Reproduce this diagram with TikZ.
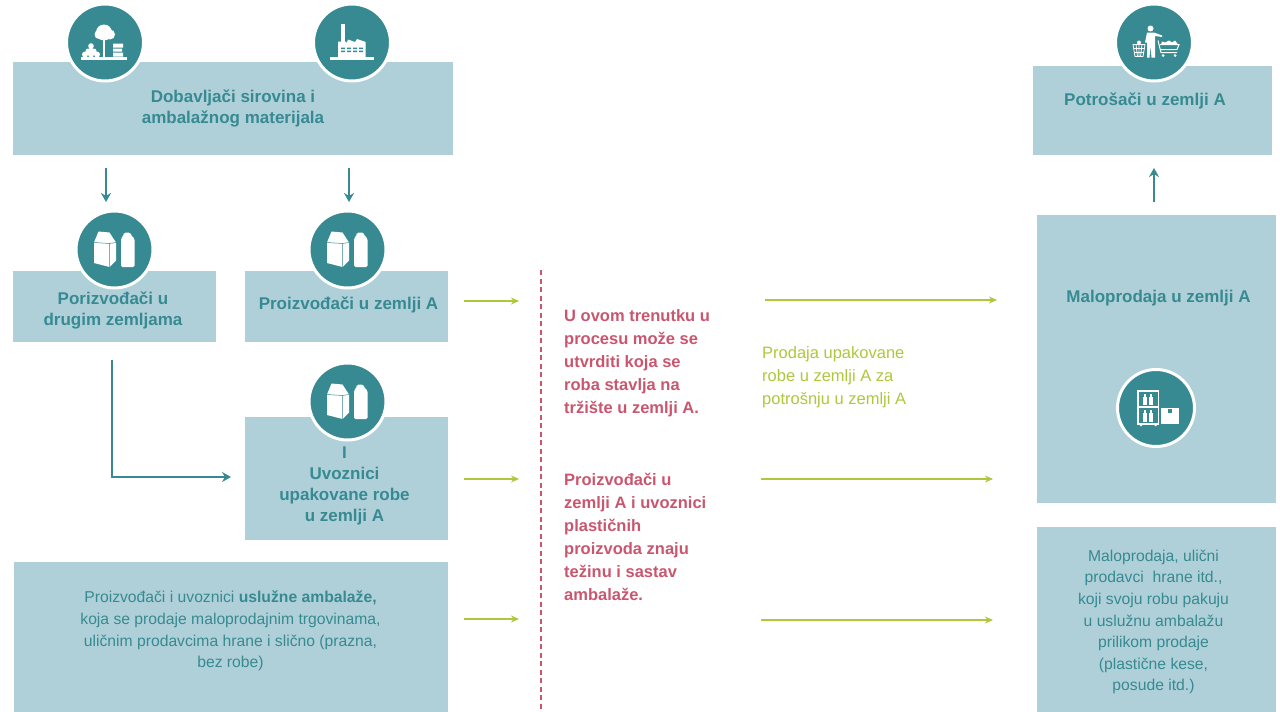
\documentclass[tikz,border=0pt]{standalone}
\usepackage{fontspec}
\setmainfont{Liberation Sans}
\usetikzlibrary{arrows.meta}
\definecolor{tealdark}{HTML}{378A91}
\definecolor{boxblue}{HTML}{AFD0D9}
\definecolor{limeline}{HTML}{AEC73C}
\definecolor{rosered}{HTML}{C9566F}
\tikzset{
	panel/.style={fill=boxblue, draw=none, inner sep=0pt, anchor=north west},
	disc/.style={circle, fill=tealdark, draw=white, line width=3pt, inner sep=0pt, minimum size=77pt},
	headtext/.style={text=tealdark, font=\fontsize{17}{21}\selectfont\bfseries, align=center, inner sep=0pt},
	bodytext/.style={text=tealdark, font=\fontsize{15.7}{21.6}\selectfont, align=center, inner sep=0pt},
	noticetext/.style={text=rosered, font=\fontsize{16.5}{23}\selectfont\bfseries, align=left, inner sep=0pt, anchor=west},
	saletext/.style={text=limeline, font=\fontsize{16.5}{23}\selectfont, align=left, inner sep=0pt, anchor=west},
	tealarrow/.style={draw=tealdark, line width=1.6pt, -{Stealth[length=9pt,width=10pt]}},
	limearrow/.style={draw=limeline, line width=1.2pt, -{Stealth[length=8pt,width=7pt]}},
	supplyicon/.pic={
		\fill[white] (-24,14.3) rectangle (22,17);
		\fill[white] (-2,-6) rectangle (0,15);
		\fill[white] (-1,-10) circle (8) (-6,-8) circle (4.5) (5,-8) circle (5);
		\fill[white] (-14,8.5) circle (3) (-20,12) circle (3) (-14,12) circle (3) (-8,12) circle (3) (-17,8.5) circle (2.5) (-11,8.5) circle (2.5) (-14,3.5) circle (2.8);
		\fill[white] (8,1) rectangle (18,5) (8,6) rectangle (17,9) (8,10) rectangle (18,14);
	},
	factoryicon/.pic={
		\fill[white] (-22,14.3) rectangle (22,17);
		\fill[white] (-11.3,-18.7) rectangle (-7,0);
		\fill[white] (-14,15) -- (-14,-1) -- (-6,-1) -- (-5.5,1) -- (-4,-3) -- (3,-0.5) -- (5,-3.5) -- (13.7,-0.5) -- (13.7,15) -- cycle;
		\foreach \winx in {-11,-5,1,7} {
			\fill[tealdark] (\winx,5) rectangle ++(4,1.6) (\winx,8) rectangle ++(4,1.6);
		}
	},
	packicon/.pic={
		\fill[white] (-20.5,-7) -- (-16,-18) -- (-5,-17) -- (1.5,-7) -- (1.5,11) -- (-5,17.5) -- (-20.5,13.5) -- cycle;
		\draw[tealdark, line width=.5pt] (-5,-6) -- (-5,17.5) (-20.5,-7) -- (-5,-6) -- (1.5,-7);
		\fill[white, rounded corners=1.5pt] (6.5,-11) -- (9.5,-15) -- (9.5,-17) -- (16,-17) -- (16,-15) -- (20,-11) -- (20,17.5) -- (6.5,17.5) -- cycle;
	},
	shoppericon/.pic={
		\fill[white] (-3.5,-14) circle (3);
		\fill[white] (-9,0) -- (-7,-10) -- (0,-10) -- (8,-7) -- (8,-5.5) -- (1,-6.5) -- (1,15) -- (-2.5,15) -- (-3.5,3) -- (-4.5,15) -- (-7,15) -- (-7,0) -- cycle;
		\draw[white, line width=.8pt] (-21,2) -- (-9,2) -- (-11,14) -- (-19,14) -- cycle (-18,2) -- (-16.5,14) (-15,2) -- (-15,14) (-12,2) -- (-13.5,14) (-20,6) -- (-10,6) (-19.5,10) -- (-10.5,10);
		\fill[white] (-15,0) circle (2);
		\draw[white, line width=1pt] (4,-2) -- (7,10) -- (23,10) (6,2) -- (25,2) -- (23,7) -- (7,7);
		\fill[white] (7,2) -- (8,-1) -- (11,0) -- (15,-2) -- (18,0) -- (21,-2) -- (24,2) -- cycle;
		\fill[white] (9,13) circle (1.5) (21,13) circle (1.5);
	},
	shelficon/.pic={
		\draw[white, line width=1.2pt] (-18,-17) rectangle (2.5,16);
		\draw[white, line width=1.2pt] (-18,-1) -- (2.5,-1);
		\foreach \botx in {-11.5,-5.5} {
			\fill[white] (\botx-2,-3) rectangle (\botx+2,-11);
			\fill[white] (\botx-1,-11) rectangle (\botx+1,-14);
			\fill[white] (\botx-2,14) rectangle (\botx+2,5);
			\fill[white] (\botx-1,5) rectangle (\botx+1,2);
		}
		\fill[white] (-16,16) rectangle (-14,18) (-1.5,16) rectangle (0.5,18);
		\fill[white] (5,-0.5) rectangle (23,16);
		\fill[tealdark] (11.7,0.7) rectangle (16,5);
	}
}

\begin{document}
\begin{tikzpicture}[x=1pt, y=-1pt]
	\useasboundingbox (0,0) rectangle (1280,712);
	\node[panel, minimum width=440pt, minimum height=93pt] (suppliers) at (13,62) {};
	\node[panel, minimum width=203pt, minimum height=71pt] (foreign) at (13,271) {};
	\node[panel, minimum width=203pt, minimum height=71pt] (domestic) at (245,271) {};
	\node[panel, minimum width=203pt, minimum height=123pt] (importers) at (245,417) {};
	\node[panel, minimum width=434pt, minimum height=150pt] (service) at (14,562) {};
	\node[panel, minimum width=239pt, minimum height=89pt] (consumers) at (1033,66) {};
	\node[panel, minimum width=239pt, minimum height=288pt] (retail) at (1037,215) {};
	\node[panel, minimum width=239pt, minimum height=185pt] (vendors) at (1037,527) {};

	\node[disc] (discsupply) at (105,42.5) {};
	\node[disc] (discfactory) at (352,42.5) {};
	\node[disc] (discforeign) at (114.5,249.5) {};
	\node[disc] (discdomestic) at (347.5,249.5) {};
	\node[disc] (discimport) at (347.5,401.5) {};
	\node[disc] (discshopper) at (1154,42.5) {};
	\node[disc] (discshelf) at (1156,408) {};
	\pic at (discsupply) {supplyicon};
	\pic at (discfactory) {factoryicon};
	\pic at (discforeign) {packicon};
	\pic at (discdomestic) {packicon};
	\pic at (discimport) {packicon};
	\pic at (discshopper) {shoppericon};
	\pic at (discshelf) {shelficon};

	\node[headtext] (tsuppliers) at (233,108.5) {Dobavljači sirovina i\\ambalažnog materijala};
	\node[headtext] (tforeign) at (113,310.5) {Porizvođači u\\drugim zemljama};
	\node[headtext] (tdomestic) at (348.5,305) {Proizvođači u zemlji A};
	\node[headtext] (timporters) at (344.5,486) {I\\Uvoznici\\upakovane robe\\u zemlji A};
	\node[bodytext] (tservice) at (230.5,631) {Proizvođači i uvoznici \textbf{uslužne ambalaže,}\\koja se prodaje maloprodajnim trgovinama,\\uličnim prodavcima hrane i slično (prazna,\\bez robe)};
	\node[headtext] (tconsumers) at (1145,101) {Potrošači u zemlji A};
	\node[headtext] (tretail) at (1158.5,298) {Maloprodaja u zemlji A};
	\node[bodytext] (tvendors) at (1153.5,622) {Maloprodaja, ulični\\prodavci\ \ hrane itd.,\\koji svoju robu pakuju\\u uslužnu ambalažu\\prilikom prodaje\\(plastične kese,\\posude itd.)};
	\node[noticetext] (tnoticea) at (564,363) {U ovom trenutku u\\procesu može se\\utvrditi koja se\\roba stavlja na\\tržište u zemlji A.};
	\node[noticetext] (tnoticeb) at (564,537) {Proizvođači u\\zemlji A i uvoznici\\plastičnih\\proizvoda znaju\\težinu i sastav\\ambalaže.};
	\node[saletext] (tsale) at (762,377) {Prodaja upakovane\\robe u zemlji A za\\potrošnju u zemlji A};

	\coordinate (downa) at (106,168);
	\coordinate (downaend) at (106,202);
	\coordinate (downb) at (349,168);
	\coordinate (downbend) at (349,202);
	\coordinate (upa) at (1154,202);
	\coordinate (upaend) at (1154,168);
	\coordinate (elbow) at (112,360);
	\coordinate (elbowend) at (231,477);
	\draw[tealarrow] (downa) -- (downaend);
	\draw[tealarrow] (downb) -- (downbend);
	\draw[tealarrow] (upa) -- (upaend);
	\draw[tealarrow, line width=1.3pt] (elbow) |- (elbowend);

	\coordinate (lefta) at (464,301);
	\coordinate (leftaend) at (519,301);
	\coordinate (leftb) at (464,479);
	\coordinate (leftbend) at (519,479);
	\coordinate (leftc) at (464,619);
	\coordinate (leftcend) at (519,619);
	\coordinate (righta) at (765,300);
	\coordinate (rightaend) at (997,300);
	\coordinate (rightb) at (761,479);
	\coordinate (rightbend) at (993,479);
	\coordinate (rightc) at (761,620);
	\coordinate (rightcend) at (993,620);
	\foreach \from/\to in {lefta/leftaend, leftb/leftbend, leftc/leftcend, righta/rightaend, rightb/rightbend, rightc/rightcend} {
		\draw[limearrow] (\from) -- (\to);
	}

	\coordinate (cuttop) at (541,270);
	\coordinate (cutbottom) at (541,712);
	\draw[rosered, line width=1.3pt, dash pattern=on 5pt off 3.5pt] (cuttop) -- (cutbottom);
\end{tikzpicture}
\end{document}
